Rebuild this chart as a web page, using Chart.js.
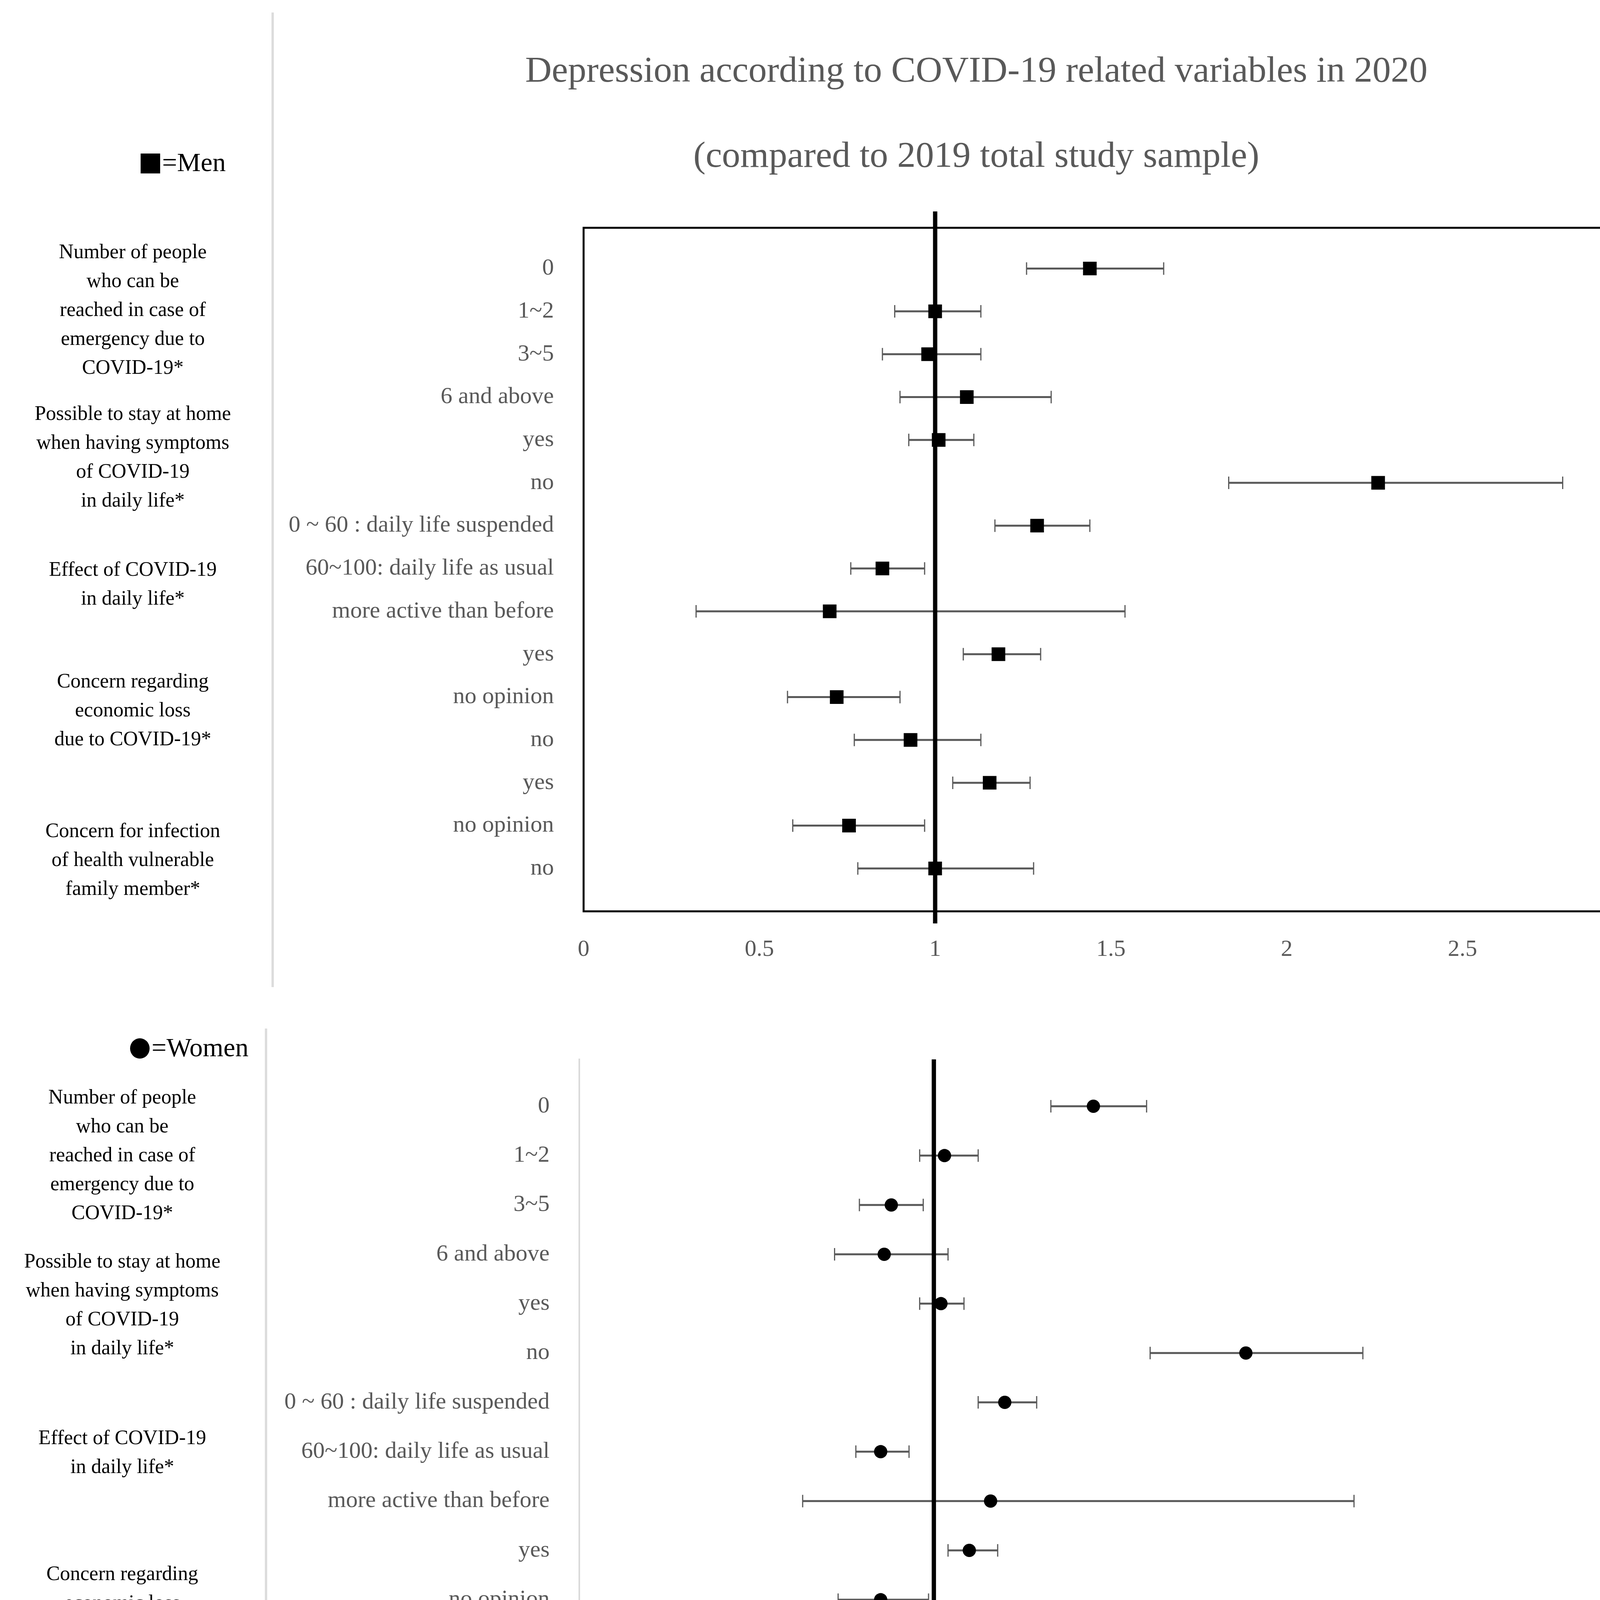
<!DOCTYPE html>
<html>
<head>
<meta charset="utf-8">
<script src="https://cdn.jsdelivr.net/npm/chart.js@4.4.1/dist/chart.umd.min.js"></script>
<style>
  body { margin: 0; background: #fff; width: 4349px; height: 5059px; position: relative; overflow: hidden; }
  .box { position: absolute; }
  .rule { position: absolute; background: #dcdcdc; }
</style>
</head>
<body>
<div class="rule" style="left:695px;top:32px;width:6px;height:2495px"></div>
<div class="rule" style="left:4283px;top:32px;width:6px;height:2495px"></div>
<div class="rule" style="left:4298px;top:2634px;width:6px;height:2298px"></div>
<div class="rule" style="left:678px;top:2633px;width:6px;height:2299px"></div>
<div class="rule" style="left:678px;top:4926px;width:3626px;height:6px"></div>

<div class="box" style="left:0;top:0;width:4349px;height:2600px"><canvas id="menChart"></canvas></div>
<div class="box" style="left:0;top:2600px;width:4349px;height:2459px"><canvas id="womenChart"></canvas></div>

<script>
const serif = "'Liberation Serif', 'Times New Roman', serif";

const rowLabels = ['0', '1~2', '3~5', '6 and above', 'yes', 'no',
    '0 ~ 60 : daily life suspended', '60~100: daily life as usual', 'more active than before',
    'yes', 'no opinion', 'no', 'yes', 'no opinion', 'no'];

// odds ratios and 95% CI, men
const menOR   = [1.44, 1.00, 0.98, 1.09, 1.01, 2.26, 1.29, 0.85, 0.70, 1.18, 0.72, 0.93, 1.155, 0.755, 1.00];
const menLow  = [1.26, 0.885, 0.85, 0.90, 0.925, 1.835, 1.17, 0.76, 0.32, 1.08, 0.58, 0.77, 1.05, 0.595, 0.78];
const menHigh = [1.65, 1.13, 1.13, 1.33, 1.11, 2.785, 1.44, 0.97, 1.54, 1.30, 0.90, 1.13, 1.27, 0.97, 1.28];

// women
const womenOR   = [1.45, 1.03, 0.88, 0.86, 1.02, 1.88, 1.20, 0.85, 1.16, 1.10, 0.85, 0.95, 1.08, 0.91, 0.94];
const womenLow  = [1.33, 0.96, 0.79, 0.72, 0.96, 1.61, 1.125, 0.78, 0.63, 1.04, 0.73, 0.83, 1.02, 0.755, 0.755];
const womenHigh = [1.60, 1.125, 0.97, 1.04, 1.085, 2.21, 1.29, 0.93, 2.185, 1.18, 0.985, 1.105, 1.16, 1.085, 1.175];

const xTicks = [0, 0.5, 1, 1.5, 2, 2.5, 3];
const refValue = 1;

const menGroups = [
    ['Number of people', 'who can be', 'reached in case of', 'emergency due to', 'COVID-19*'],
    ['Possible to stay at home', 'when having symptoms', 'of COVID-19', 'in daily life*'],
    ['Effect of COVID-19', 'in daily life*'],
    ['Concern regarding', 'economic loss', 'due to COVID-19*'],
    ['Concern for infection', 'of health vulnerable', 'family member*']
];
const womenGroups = [
    ['Number of people', 'who can be', 'reached in case of', 'emergency due to', 'COVID-19*'],
    ['Possible to stay at home', 'when having symptoms', 'of COVID-19', 'in daily life*'],
    ['Effect of COVID-19', 'in daily life*'],
    ['Concern regarding', 'economic loss', 'due to COVID-19'],
    ['Concern for infection', 'of health vulnerable', 'family member*']
];
// vertical placement of the group captions, in row units
const menGroupAt = [0.98, 4.42, 7.38, 10.33, 13.82];
const womenGroupAt = [1.01, 4.04, 7.03, 10.08, 13.11];

const forestDecor = {
    id: 'forestDecor',
    beforeDatasetsDraw(chart, args, opts) {
        const { ctx, chartArea: a, scales: { x, y } } = chart;
        ctx.save();
        if (opts.box) {
            ctx.strokeStyle = '#000';
            ctx.lineWidth = opts.box;
            ctx.strokeRect(a.left, a.top, a.right - a.left, a.bottom - a.top);
        }
        // confidence intervals
        ctx.strokeStyle = '#595959';
        opts.low.forEach((lo, i) => {
            const x0 = x.getPixelForValue(lo);
            const x1 = x.getPixelForValue(opts.high[i]);
            const py = y.getPixelForValue(i);
            ctx.lineWidth = 5;
            ctx.beginPath();
            ctx.moveTo(x0, py); ctx.lineTo(x1, py);
            ctx.stroke();
            ctx.lineWidth = 3;
            ctx.beginPath();
            ctx.moveTo(x0, py - 16); ctx.lineTo(x0, py + 16);
            ctx.moveTo(x1, py - 16); ctx.lineTo(x1, py + 16);
            ctx.stroke();
        });
        // reference line at OR = 1
        const rx = x.getPixelForValue(opts.ref);
        ctx.strokeStyle = '#000';
        ctx.lineWidth = 11;
        ctx.beginPath();
        ctx.moveTo(rx, a.top - opts.refAbove);
        ctx.lineTo(rx, a.bottom + opts.refBelow);
        ctx.stroke();
        ctx.restore();
    },
    afterDraw(chart, args, opts) {
        const { ctx, scales: { y } } = chart;
        ctx.save();
        ctx.fillStyle = '#000';
        ctx.textAlign = 'center';
        ctx.textBaseline = 'middle';
        ctx.font = '52px ' + serif;
        opts.groups.forEach((lines, g) => {
            const cy = y.getPixelForValue(opts.groupAt[g]);
            const top = cy - (lines.length - 1) * 74 / 2;
            lines.forEach((t, k) => ctx.fillText(t, opts.groupX, top + k * 74));
        });
        // legend key
        const k = opts.key;
        if (k.shape === 'rect') {
            ctx.fillRect(k.x, k.y - 25, 50, 51);
        } else {
            ctx.beginPath();
            ctx.ellipse(k.x + 25, k.y, 25, 26, 0, 0, Math.PI * 2);
            ctx.fill();
        }
        ctx.textAlign = 'left';
        ctx.textBaseline = 'alphabetic';
        ctx.font = '68px ' + serif;
        ctx.fillText(k.text, k.x + 55, k.y + 20);
        ctx.textBaseline = 'middle';
        opts.notes.forEach(n => {
            ctx.font = n.size + 'px ' + serif;
            ctx.fillText(n.text, n.x, n.y);
        });
        ctx.restore();
    }
};

function buildChart(id, values, low, high, style, layout) {
    return new Chart(document.getElementById(id), {
        type: 'scatter',
        data: {
            datasets: [{
                data: values.map((v, i) => ({ x: v, y: i })),
                pointStyle: style.shape,
                pointRadius: style.radius,
                pointHoverRadius: style.radius,
                backgroundColor: '#000',
                borderColor: '#000',
                borderWidth: 0
            }]
        },
        options: {
            responsive: true,
            maintainAspectRatio: false,
            devicePixelRatio: 1,
            animation: false,
            layout: { padding: layout.padding },
            plugins: {
                legend: { display: false },
                tooltip: { enabled: false },
                title: layout.title,
                forestDecor: {
                    box: layout.box, low: low, high: high, ref: refValue,
                    refAbove: layout.refAbove, refBelow: layout.refBelow,
                    groups: layout.groups, groupAt: layout.groupAt, groupX: layout.groupX,
                    key: layout.key, notes: layout.notes
                }
            },
            scales: {
                x: {
                    type: 'linear', min: xTicks[0], max: xTicks[xTicks.length - 1],
                    afterBuildTicks: s => { s.ticks = xTicks.map(v => ({ value: v })); },
                    ticks: {
                        color: '#595959', font: { family: serif, size: 60 }, padding: layout.xPad,
                        callback: v => String(v)
                    },
                    grid: { display: false, drawTicks: false },
                    border: { display: false },
                    afterFit: s => { s.height = 200; }
                },
                y: {
                    type: 'linear', reverse: true, min: -0.95, max: 15,
                    afterBuildTicks: s => { s.ticks = rowLabels.map((_, i) => ({ value: i })); },
                    ticks: {
                        autoSkip: false, color: '#595959', padding: 76,
                        font: { family: serif, size: 60 },
                        callback: v => rowLabels[v]
                    },
                    grid: { display: false, drawTicks: false },
                    border: layout.yBorder,
                    afterFit: s => { s.width = layout.yWidth; }
                },
                // empty spacer on the right, keeps the title centred on the panel
                spacer: {
                    type: 'linear', position: 'right', display: layout.spacer > 0,
                    ticks: { display: false },
                    grid: { display: false, drawTicks: false },
                    border: { display: false },
                    afterFit: s => { s.width = layout.spacer; }
                }
            }
        },
        plugins: [forestDecor]
    });
}

buildChart('menChart', menOR, menLow, menHigh, { shape: 'rect', radius: 24.7 }, {
    padding: { left: 650, right: 0, top: 0, bottom: 67 },
    yWidth: 844, spacer: 155, xPad: 62, box: 5, refAbove: 42, refBelow: 31,
    yBorder: { display: false },
    title: {
        display: true,
        text: ['Depression according to COVID-19 related variables in 2020', '(compared to 2019 total study sample)'],
        color: '#595959',
        font: { family: serif, size: 94, weight: 'normal', lineHeight: 2.32 },
        padding: { top: 75, bottom: 72 }
    },
    groups: menGroups, groupAt: menGroupAt, groupX: 340,
    key: { shape: 'rect', text: '=Men', x: 360, y: 418 },
    notes: []
});

buildChart('womenChart', womenOR, womenLow, womenHigh, { shape: 'circle', radius: 17 }, {
    padding: { left: 600, right: 143, top: 107, bottom: 132 },
    yWidth: 883, spacer: 0, xPad: 70, box: 0, refAbove: 0, refBelow: 163,
    yBorder: { display: true, color: '#d9d9d9', width: 4 },
    title: { display: false },
    groups: womenGroups, groupAt: womenGroupAt, groupX: 313,
    key: { shape: 'circle', text: '=Women', x: 333, y: 84 },
    notes: [
        { text: '* P value', x: 763, y: 2381, size: 44 },
        { text: '< 0.005', x: 1150, y: 2381, size: 44 }
    ]
});
</script>
</body>
</html>
